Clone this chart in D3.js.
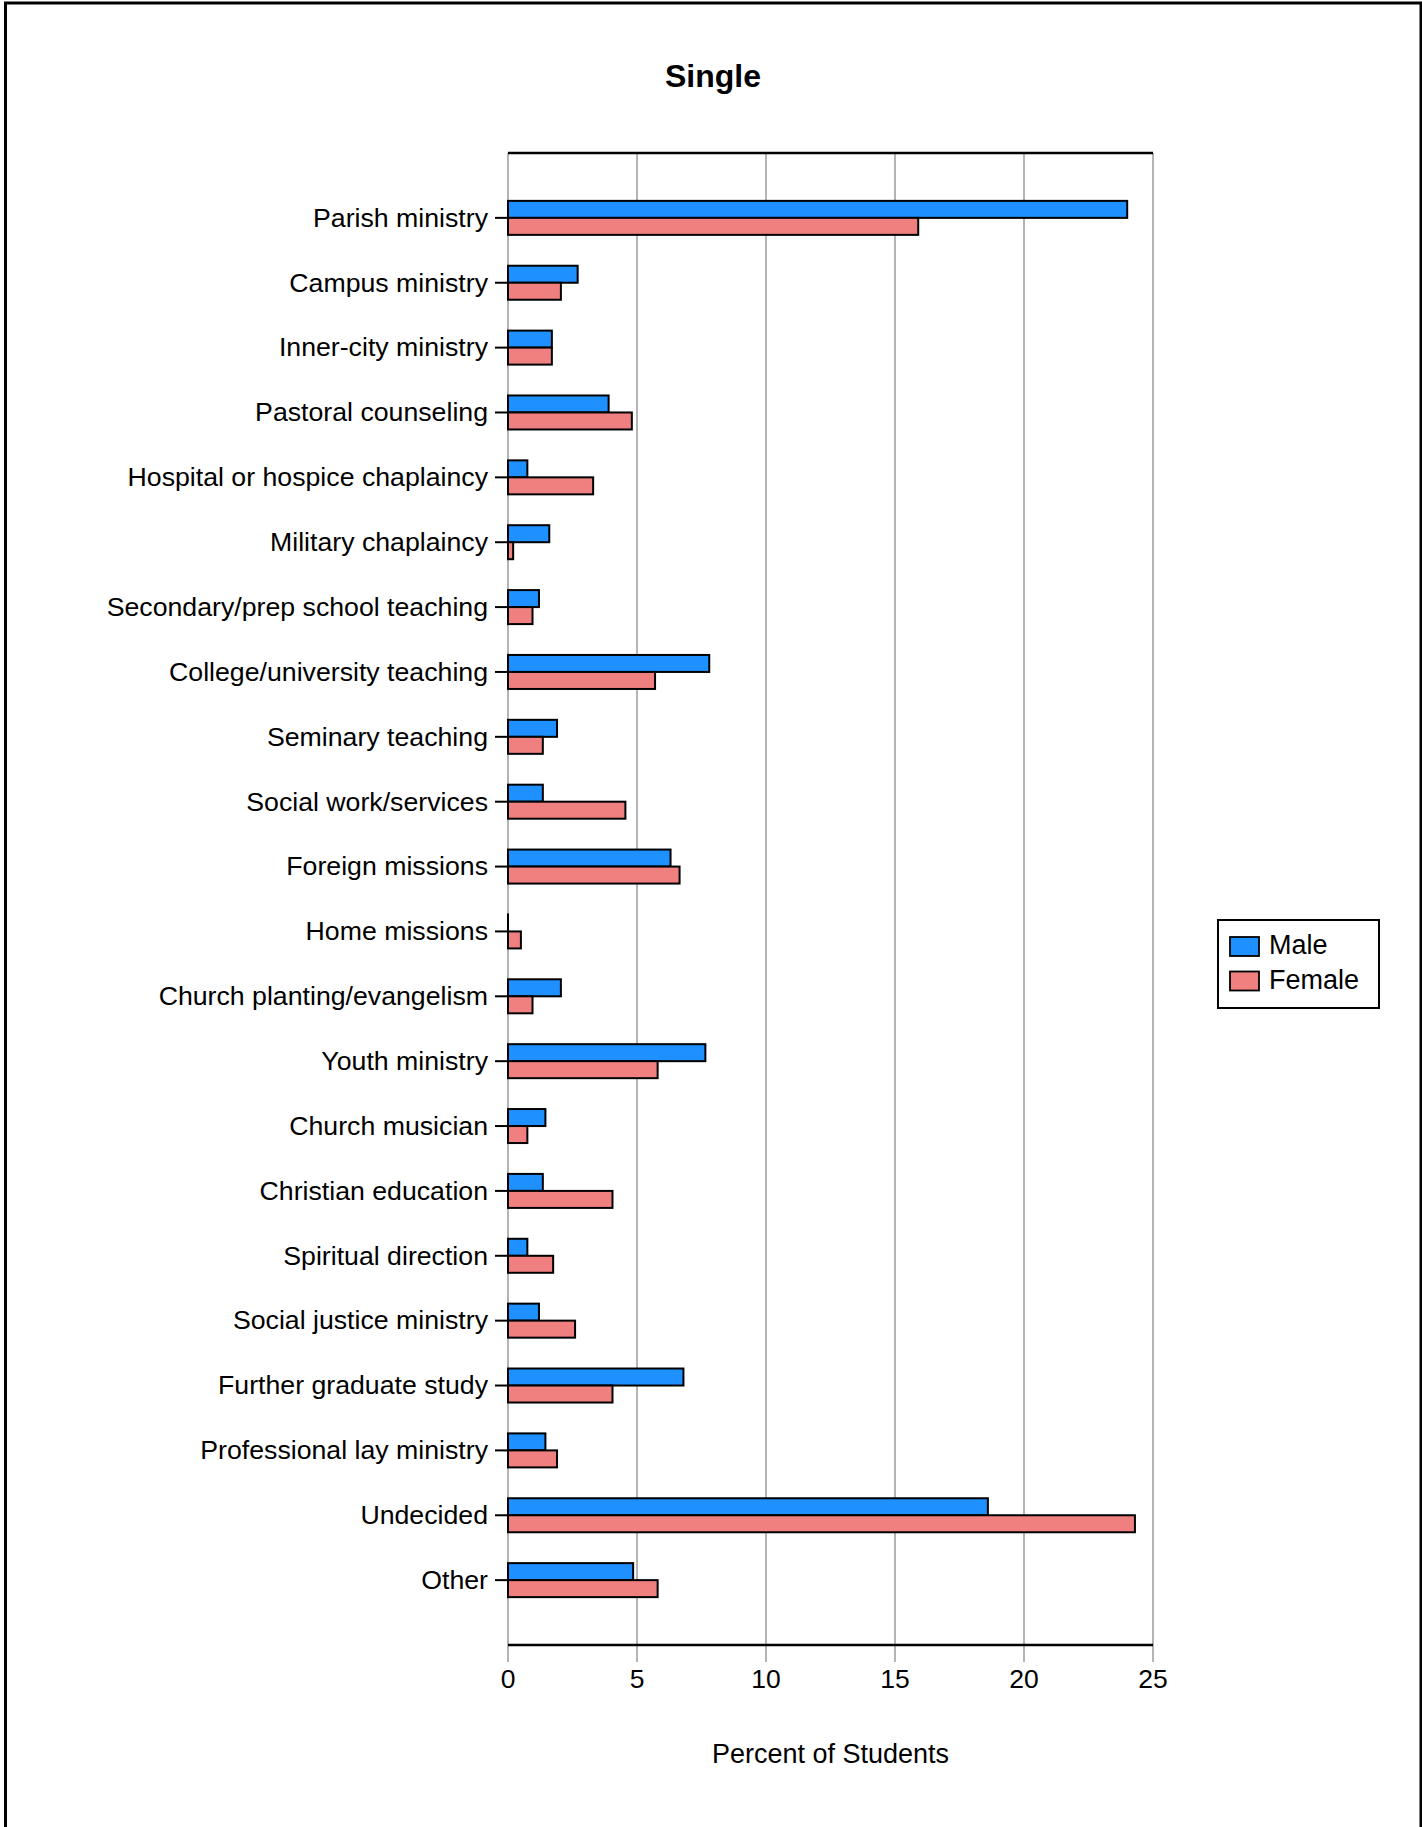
<!DOCTYPE html>
<html>
<head>
<meta charset="utf-8">
<script src="https://cdn.jsdelivr.net/npm/d3@7"></script>
<style>
  body { margin: 0; background: #fff; }
  text { font-family: "Liberation Sans", Arial, Helvetica, sans-serif; fill: #000; }
</style>
</head>
<body>
<svg id="chart" width="1422" height="1827"></svg>
<script>
const categories = [
  "Parish ministry", "Campus ministry", "Inner-city ministry", "Pastoral counseling",
  "Hospital or hospice chaplaincy", "Military chaplaincy", "Secondary/prep school teaching",
  "College/university teaching", "Seminary teaching", "Social work/services",
  "Foreign missions", "Home missions", "Church planting/evangelism", "Youth ministry",
  "Church musician", "Christian education", "Spiritual direction", "Social justice ministry",
  "Further graduate study", "Professional lay ministry", "Undecided", "Other"
];
const maleValues = [24.0, 2.7, 1.7, 3.9, 0.75, 1.6, 1.2, 7.8, 1.9, 1.35, 6.3, 0, 2.05, 7.65, 1.45, 1.35, 0.75, 1.2, 6.8, 1.45, 18.6, 4.85];
const femaleValues = [15.9, 2.05, 1.7, 4.8, 3.3, 0.2, 0.95, 5.7, 1.35, 4.55, 6.65, 0.5, 0.95, 5.8, 0.75, 4.05, 1.75, 2.6, 4.05, 1.9, 24.3, 5.8];
const xTicks = [0, 5, 10, 15, 20, 25];
const seriesNames = ["Male", "Female"];
const seriesColors = ["#1e90ff", "#f08080"];
const chartTitle = "Single";
const xTitle = "Percent of Students";

const svg = d3.select("#chart");

// outer frame
svg.append("rect").attr("x", 5.5).attr("y", 3).attr("width", 1415.5).attr("height", 1830)
  .attr("fill", "none").attr("stroke", "#000").attr("stroke-width", 3);

const L = 508, R = 1153, T = 153, B = 1645;
const x = d3.scaleLinear().domain([0, 25]).range([L, R]);
const y = d3.scalePoint().domain(categories).range([T, B]).padding(1);
const barH = 17;

// gridlines (extend below axis as ticks)
svg.append("g").selectAll("line").data(xTicks).join("line")
  .attr("x1", d => x(d)).attr("x2", d => x(d))
  .attr("y1", T).attr("y2", B + 17)
  .attr("stroke", "#b4b4b4").attr("stroke-width", 2);

// top and bottom lines
svg.append("line").attr("x1", L).attr("x2", R).attr("y1", T).attr("y2", T)
  .attr("stroke", "#000").attr("stroke-width", 2.5);
svg.append("line").attr("x1", L).attr("x2", R).attr("y1", B).attr("y2", B)
  .attr("stroke", "#000").attr("stroke-width", 2.5);

// x tick labels
svg.append("g").selectAll("text").data(xTicks).join("text")
  .attr("x", d => x(d)).attr("y", 1688)
  .attr("text-anchor", "middle").attr("font-size", 26.5)
  .text(d => d);

// bars
const series = [maleValues, femaleValues];
series.forEach((vals, si) => {
  svg.append("g").selectAll("rect").data(categories).join("rect")
    .attr("x", x(0))
    .attr("y", d => y(d) + (si === 0 ? -barH : 0))
    .attr("width", (d, i) => Math.max(0.01, x(vals[i]) - x(0)))
    .attr("height", barH)
    .attr("fill", seriesColors[si])
    .attr("stroke", "#000").attr("stroke-width", 2);
});

// category ticks and labels
svg.append("g").selectAll("line").data(categories).join("line")
  .attr("x1", L - 13).attr("x2", L).attr("y1", d => y(d)).attr("y2", d => y(d))
  .attr("stroke", "#000").attr("stroke-width", 2);
svg.append("g").selectAll("text").data(categories).join("text")
  .attr("x", 488).attr("y", d => y(d)).attr("dy", "0.33em")
  .attr("text-anchor", "end").attr("font-size", 26.7)
  .text(d => d);

// titles
svg.append("text").attr("x", 713).attr("y", 87).attr("text-anchor", "middle")
  .attr("font-size", 32).attr("font-weight", "bold").text(chartTitle);
svg.append("text").attr("x", (L + R) / 2).attr("y", 1763).attr("text-anchor", "middle")
  .attr("font-size", 27).text(xTitle);

// legend
const lg = svg.append("g");
lg.append("rect").attr("x", 1218).attr("y", 920).attr("width", 161).attr("height", 88)
  .attr("fill", "#fff").attr("stroke", "#000").attr("stroke-width", 2);
seriesNames.forEach((n, i) => {
  lg.append("rect").attr("x", 1230).attr("y", 937 + i * 34.5).attr("width", 29).attr("height", 19)
    .attr("fill", seriesColors[i]).attr("stroke", "#000").attr("stroke-width", 1.8);
  lg.append("text").attr("x", 1269).attr("y", 954 + i * 34.5).attr("font-size", 27).text(n);
});
</script>
</body>
</html>
